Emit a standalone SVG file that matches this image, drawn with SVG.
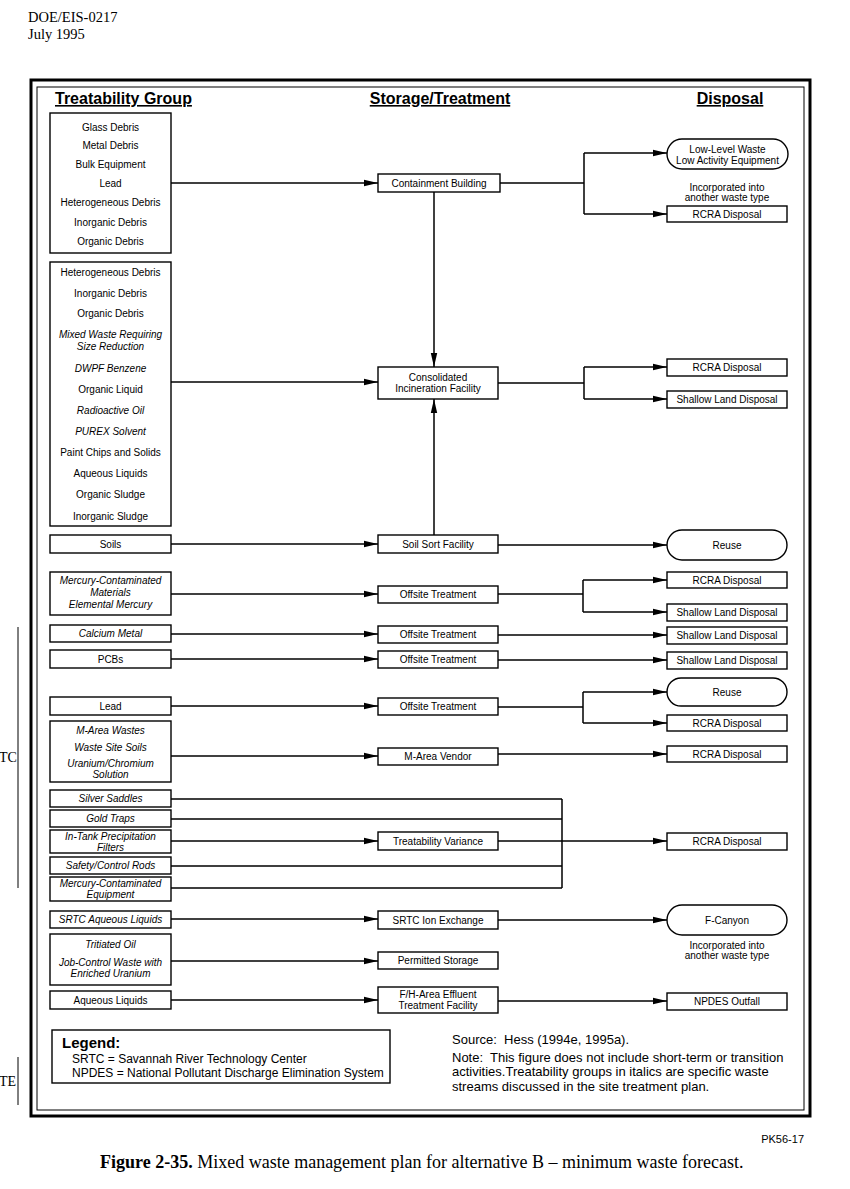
<svg xmlns="http://www.w3.org/2000/svg" width="850" height="1189" viewBox="0 0 850 1189">
<defs>
<style>
.bx{fill:#fff;stroke:#000;stroke-width:1.4}
.t{font-family:"Liberation Sans",Arial,sans-serif;font-size:10px;text-anchor:middle;fill:#000}
.i{font-style:italic}
.h{font-family:"Liberation Sans",Arial,sans-serif;font-size:16px;font-weight:bold;text-decoration:underline;fill:#000}
.c{fill:none;stroke:#000;stroke-width:1.5}
.a{marker-end:url(#ah)}
.s{font-family:"Liberation Sans",Arial,sans-serif;fill:#000}
.ser{font-family:"Liberation Serif","Times New Roman",serif;fill:#000}
</style>
<marker id="ah" markerUnits="userSpaceOnUse" markerWidth="14" markerHeight="8" refX="14" refY="4" orient="auto"><path d="M0,0.8 L14,4 L0,7.2 z" fill="#000"/></marker>
</defs>
<rect width="850" height="1189" fill="#fff"/>
<text class="ser" x="28" y="22" font-size="14.5">DOE/EIS-0217</text>
<text class="ser" x="28" y="39" font-size="14.5">July 1995</text>
<text class="ser" x="-1" y="762" font-size="14">TC</text>
<line x1="18" y1="627" x2="18" y2="888" stroke="#000" stroke-width="1"/>
<text class="ser" x="-1" y="1086" font-size="14">TE</text>
<line x1="18" y1="1057" x2="18" y2="1105" stroke="#000" stroke-width="1"/>

<rect x="31" y="80" width="779" height="1036" fill="none" stroke="#000" stroke-width="3"/>
<rect x="37" y="87" width="767" height="1023" fill="none" stroke="#000" stroke-width="1"/>

<text class="h" x="55" y="104">Treatability Group</text>
<text class="h" x="440" y="104" text-anchor="middle">Storage/Treatment</text>
<text class="h" x="730" y="104" text-anchor="middle">Disposal</text>

<g id="connectors">
<path class="c a" d="M171,183 H378"/>
<path class="c" d="M500,183 H584 M584,153 V214"/>
<path class="c a" d="M584,153 H667"/>
<path class="c a" d="M584,214 H667"/>
<path class="c a" d="M434,192 V367"/>
<path class="c a" d="M171,382 H378"/>
<path class="c" d="M498,383 H584 M584,367 V399"/>
<path class="c a" d="M584,367 H667"/>
<path class="c a" d="M584,399 H667"/>
<path class="c a" d="M434,535 V399"/>
<path class="c a" d="M171,544 H378"/>
<path class="c a" d="M498,545 H667"/>
<path class="c a" d="M171,594 H378"/>
<path class="c" d="M498,594 H583 M583,580 V612"/>
<path class="c a" d="M583,580 H667"/>
<path class="c a" d="M583,612 H667"/>
<path class="c a" d="M171,634 H378"/>
<path class="c a" d="M498,635 H667"/>
<path class="c a" d="M171,659 H378"/>
<path class="c a" d="M498,660 H667"/>
<path class="c a" d="M171,706 H378"/>
<path class="c" d="M498,707 H583 M583,692 V723"/>
<path class="c a" d="M583,692 H667"/>
<path class="c a" d="M583,723 H667"/>
<path class="c a" d="M171,756 H378"/>
<path class="c a" d="M498,754 H667"/>
<path class="c" d="M171,799 H562 M171,819 H562 M171,866 H562 M171,888 H562 M562,799 V888"/>
<path class="c a" d="M171,841 H378"/>
<path class="c a" d="M498,841 H667"/>
<path class="c a" d="M171,919 H378"/>
<path class="c a" d="M498,920 H667"/>
<path class="c a" d="M171,961 H378"/>
<path class="c a" d="M171,1000 H378"/>
<path class="c a" d="M498,1001 H667"/>
</g>

<g id="tg1">
<rect class="bx" x="50" y="113" width="121" height="140"/>
<text class="t" x="110.5" y="131">Glass Debris</text>
<text class="t" x="110.5" y="149">Metal Debris</text>
<text class="t" x="110.5" y="168">Bulk Equipment</text>
<text class="t" x="110.5" y="187">Lead</text>
<text class="t" x="110.5" y="206">Heterogeneous Debris</text>
<text class="t" x="110.5" y="226">Inorganic Debris</text>
<text class="t" x="110.5" y="245">Organic Debris</text>
</g>
<g id="tg2">
<rect class="bx" x="50" y="262" width="121" height="264"/>
<text class="t" x="110.5" y="276">Heterogeneous Debris</text>
<text class="t" x="110.5" y="297">Inorganic Debris</text>
<text class="t" x="110.5" y="317">Organic Debris</text>
<text class="t i" x="110.5" y="338">Mixed Waste Requiring</text>
<text class="t i" x="110.5" y="350">Size Reduction</text>
<text class="t i" x="110.5" y="372">DWPF Benzene</text>
<text class="t" x="110.5" y="393">Organic Liquid</text>
<text class="t i" x="110.5" y="414">Radioactive Oil</text>
<text class="t i" x="110.5" y="435">PUREX Solvent</text>
<text class="t" x="110.5" y="456">Paint Chips and Solids</text>
<text class="t" x="110.5" y="477">Aqueous Liquids</text>
<text class="t" x="110.5" y="498">Organic Sludge</text>
<text class="t" x="110.5" y="520">Inorganic Sludge</text>
</g>
<g id="tg-soils"><rect class="bx" x="50" y="535" width="121" height="18"/><text class="t" x="110.5" y="548">Soils</text></g>
<g id="tg-mercury">
<rect class="bx" x="50" y="572" width="121" height="43"/>
<text class="t i" x="110.5" y="584">Mercury-Contaminated</text>
<text class="t i" x="110.5" y="596">Materials</text>
<text class="t i" x="110.5" y="608">Elemental Mercury</text>
</g>
<g id="tg-calcium"><rect class="bx" x="50" y="625" width="121" height="17"/><text class="t i" x="110.5" y="637">Calcium Metal</text></g>
<g id="tg-pcbs"><rect class="bx" x="50" y="650" width="121" height="18"/><text class="t" x="110.5" y="663">PCBs</text></g>
<g id="tg-lead"><rect class="bx" x="50" y="697" width="121" height="18"/><text class="t" x="110.5" y="710">Lead</text></g>
<g id="tg-marea">
<rect class="bx" x="50" y="721" width="121" height="61"/>
<text class="t i" x="110.5" y="734">M-Area Wastes</text>
<text class="t i" x="110.5" y="751">Waste Site Soils</text>
<text class="t i" x="110.5" y="767">Uranium/Chromium</text>
<text class="t i" x="110.5" y="778">Solution</text>
</g>
<g id="tg-silver"><rect class="bx" x="50" y="790" width="121" height="17"/><text class="t i" x="110.5" y="802">Silver Saddles</text></g>
<g id="tg-gold"><rect class="bx" x="50" y="810" width="121" height="17"/><text class="t i" x="110.5" y="822">Gold Traps</text></g>
<g id="tg-intank"><rect class="bx" x="50" y="830" width="121" height="23"/><text class="t i" x="110.5" y="840">In-Tank Precipitation</text><text class="t i" x="110.5" y="851">Filters</text></g>
<g id="tg-safety"><rect class="bx" x="50" y="857" width="121" height="17"/><text class="t i" x="110.5" y="869">Safety/Control Rods</text></g>
<g id="tg-mercequip"><rect class="bx" x="50" y="877" width="121" height="24"/><text class="t i" x="110.5" y="887">Mercury-Contaminated</text><text class="t i" x="110.5" y="898">Equipment</text></g>
<g id="tg-srtc"><rect class="bx" x="50" y="911" width="121" height="17"/><text class="t i" x="110.5" y="923">SRTC Aqueous Liquids</text></g>
<g id="tg-tritiated">
<rect class="bx" x="50" y="934" width="121" height="51"/>
<text class="t i" x="110.5" y="948">Tritiated Oil</text>
<text class="t i" x="110.5" y="966">Job-Control Waste with</text>
<text class="t i" x="110.5" y="977">Enriched Uranium</text>
</g>
<g id="tg-aqueous"><rect class="bx" x="50" y="991" width="121" height="18"/><text class="t" x="110.5" y="1004">Aqueous Liquids</text></g>

<g id="st-containment"><rect class="bx" x="378" y="174" width="122" height="18"/><text class="t" x="439" y="187">Containment Building</text></g>
<g id="st-cif"><rect class="bx" x="378" y="367" width="120" height="32"/><text class="t" x="438" y="381">Consolidated</text><text class="t" x="438" y="392">Incineration Facility</text></g>
<g id="st-soilsort"><rect class="bx" x="378" y="535" width="120" height="18"/><text class="t" x="438" y="548">Soil Sort Facility</text></g>
<g id="st-off1"><rect class="bx" x="378" y="586" width="120" height="17"/><text class="t" x="438" y="598">Offsite Treatment</text></g>
<g id="st-off2"><rect class="bx" x="378" y="626" width="120" height="17"/><text class="t" x="438" y="638">Offsite Treatment</text></g>
<g id="st-off3"><rect class="bx" x="378" y="651" width="120" height="17"/><text class="t" x="438" y="663">Offsite Treatment</text></g>
<g id="st-off4"><rect class="bx" x="378" y="698" width="120" height="17"/><text class="t" x="438" y="710">Offsite Treatment</text></g>
<g id="st-mvendor"><rect class="bx" x="378" y="748" width="120" height="17"/><text class="t" x="438" y="760">M-Area Vendor</text></g>
<g id="st-variance"><rect class="bx" x="378" y="832" width="120" height="18"/><text class="t" x="438" y="845">Treatability Variance</text></g>
<g id="st-ionex"><rect class="bx" x="378" y="911" width="120" height="18"/><text class="t" x="438" y="924">SRTC Ion Exchange</text></g>
<g id="st-permitted"><rect class="bx" x="378" y="952" width="120" height="17"/><text class="t" x="438" y="964">Permitted Storage</text></g>
<g id="st-fh"><rect class="bx" x="378" y="987" width="120" height="26"/><text class="t" x="438" y="998">F/H-Area Effluent</text><text class="t" x="438" y="1009">Treatment Facility</text></g>

<g id="d-llw"><rect class="bx" x="667" y="139" width="121" height="30" rx="15"/><text class="t" x="727.5" y="153">Low-Level Waste</text><text class="t" x="727.5" y="164">Low Activity Equipment</text></g>
<g id="d-note1"><text class="t" x="727" y="191">Incorporated into</text><text class="t" x="727" y="201">another waste type</text></g>
<g id="d-rcra1"><rect class="bx" x="667" y="206" width="120" height="16"/><text class="t" x="727" y="218">RCRA Disposal</text></g>
<g id="d-rcra2"><rect class="bx" x="667" y="359" width="120" height="17"/><text class="t" x="727" y="371">RCRA Disposal</text></g>
<g id="d-shallow1"><rect class="bx" x="667" y="391" width="120" height="17"/><text class="t" x="727" y="403">Shallow Land Disposal</text></g>
<g id="d-reuse1"><rect class="bx" x="667" y="530" width="120" height="30" rx="15"/><text class="t" x="727" y="549">Reuse</text></g>
<g id="d-rcra3"><rect class="bx" x="667" y="572" width="120" height="16"/><text class="t" x="727" y="584">RCRA Disposal</text></g>
<g id="d-shallow2"><rect class="bx" x="667" y="604" width="120" height="17"/><text class="t" x="727" y="616">Shallow Land Disposal</text></g>
<g id="d-shallow3"><rect class="bx" x="667" y="627" width="120" height="17"/><text class="t" x="727" y="639">Shallow Land Disposal</text></g>
<g id="d-shallow4"><rect class="bx" x="667" y="652" width="120" height="17"/><text class="t" x="727" y="664">Shallow Land Disposal</text></g>
<g id="d-reuse2"><rect class="bx" x="667" y="678" width="120" height="28" rx="14"/><text class="t" x="727" y="696">Reuse</text></g>
<g id="d-rcra4"><rect class="bx" x="667" y="715" width="120" height="16"/><text class="t" x="727" y="727">RCRA Disposal</text></g>
<g id="d-rcra5"><rect class="bx" x="667" y="746" width="120" height="16"/><text class="t" x="727" y="758">RCRA Disposal</text></g>
<g id="d-rcra6"><rect class="bx" x="667" y="833" width="120" height="17"/><text class="t" x="727" y="845">RCRA Disposal</text></g>
<g id="d-fcanyon"><rect class="bx" x="667" y="905" width="120" height="30" rx="15"/><text class="t" x="727" y="924">F-Canyon</text></g>
<g id="d-note2"><text class="t" x="727" y="949">Incorporated into</text><text class="t" x="727" y="959">another waste type</text></g>
<g id="d-npdes"><rect class="bx" x="667" y="993" width="120" height="17"/><text class="t" x="727" y="1005">NPDES Outfall</text></g>

<g id="legend">
<rect class="bx" x="52" y="1030" width="338" height="53"/>
<text class="s" x="62" y="1048" font-size="15" font-weight="bold">Legend:</text>
<text class="s" x="72" y="1063" font-size="12">SRTC = Savannah River Technology Center</text>
<text class="s" x="72" y="1077" font-size="12">NPDES = National Pollutant Discharge Elimination System</text>
</g>
<g id="notes">
<text class="s" x="452" y="1044" font-size="13" xml:space="preserve">Source:  Hess (1994e, 1995a).</text>
<text class="s" x="452" y="1062" font-size="13" xml:space="preserve">Note:  This figure does not include short-term or transition</text>
<text class="s" x="452" y="1076" font-size="13">activities.Treatability groups in italics are specific waste</text>
<text class="s" x="452" y="1091" font-size="13">streams discussed in the site treatment plan.</text>
</g>
<text class="s" x="804" y="1143" font-size="11" text-anchor="end">PK56-17</text>
<text class="ser" x="100" y="1168" font-size="18"><tspan font-weight="bold">Figure 2-35.</tspan>  Mixed waste management plan for alternative B – minimum waste forecast.</text>
</svg>
